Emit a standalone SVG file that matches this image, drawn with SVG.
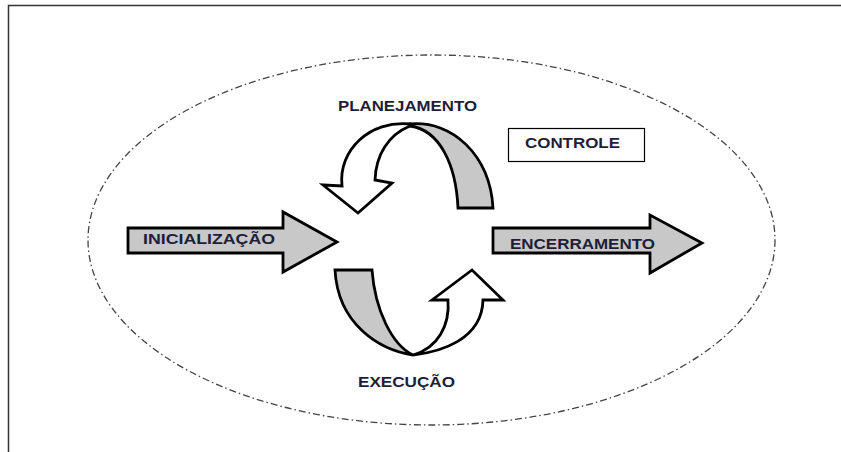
<svg xmlns="http://www.w3.org/2000/svg" width="841" height="452" viewBox="0 0 841 452">
<style>
.lbl{font-family:"Liberation Sans",Arial,sans-serif;font-weight:bold;font-size:15.5px;fill:#1e1e38}
.blk{stroke:#000;stroke-width:2.8;stroke-linejoin:miter}
.gray{fill:#c8c8c8}
.white{fill:#fff}
</style>
<rect width="841" height="452" fill="#fff"/>
<g id="frame" fill="none" stroke="#333" stroke-width="1.5">
<path d="M8.5,452 V5.5 H841"/>
</g>
<g id="ellipse">
<ellipse cx="431.5" cy="240" rx="343.5" ry="185" fill="none" stroke="#444" stroke-width="1.3" stroke-dasharray="7,3,1.5,3"/>
</g>
<g id="connectors">
<g id="inicializacao-arrow">
<path class="blk gray" d="M128,228 H283 V212 L337,242 L283,272 V253 H128 Z"/>
</g>
<g id="encerramento-arrow">
<path class="blk gray" d="M493,228 H650 V215 L702,243 L650,273 V253 H493 Z"/>
</g>
<g id="planejamento-cycle">
<path class="blk gray" d="M410,124 C452,120 490,155 493,208 L458,208 C456,165 440,130 410,126 Z"/>
<path class="blk white" d="M410,124 C370,120 338,150 342,186 L323,185 L358,213 L392,183 L375,180 C376,155 388,135 410,126 Z"/>
</g>
<g id="execucao-cycle">
<path class="blk gray" d="M335,270 H372 C375,310 392,345 413,355 C380,350 338,325 335,270 Z"/>
<path class="blk white" d="M413,355 C440,352 482,340 483,300 L503,300 L472,270 L432,300 L448,300 C450,325 438,348 413,355 Z"/>
</g>
</g>
<g id="node-planejamento"><text class="lbl" x="338" y="110.5" textLength="139" lengthAdjust="spacingAndGlyphs">PLANEJAMENTO</text></g>
<g id="node-controle">
<rect x="508.5" y="128.5" width="136" height="33" fill="#fff" stroke="#000" stroke-width="1.2"/>
<text class="lbl" x="525" y="148" textLength="95" lengthAdjust="spacingAndGlyphs">CONTROLE</text>
</g>
<g id="node-inicializacao"><text class="lbl" x="143" y="244" textLength="132" lengthAdjust="spacingAndGlyphs">INICIALIZAÇÃO</text></g>
<g id="node-encerramento"><text class="lbl" x="510" y="249" textLength="145" lengthAdjust="spacingAndGlyphs">ENCERRAMENTO</text></g>
<g id="node-execucao"><text class="lbl" x="358" y="387" textLength="97" lengthAdjust="spacingAndGlyphs">EXECUÇÃO</text></g>
</svg>
